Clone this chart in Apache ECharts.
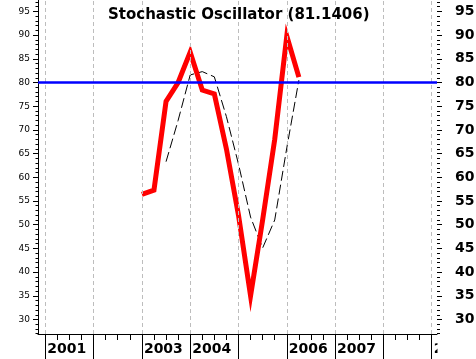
<!DOCTYPE html>
<html><head><meta charset="utf-8">
<script src="https://cdn.jsdelivr.net/npm/echarts@6/dist/echarts.min.js"></script>
<style>html,body{margin:0;padding:0;background:#fff}#c{width:476px;height:359px}</style>
</head><body><div id="c"></div>
<script>
// ---- data ----
const titleText = 'Stochastic Oscillator (81.1406)';
const periods = [2003.00, 2003.25, 2003.50, 2003.75, 2004.00, 2004.25, 2004.50, 2004.75, 2005.00, 2005.25, 2005.50, 2005.75, 2006.00, 2006.25];
const kValues = [56.4, 57.3, 76.0, 80.0, 86.4, 78.4, 77.6, 66.0, 52.0, 35.0, 51.0, 68.0, 89.8, 81.1406];
const dValues = [null, null, 63.3, 72.0, 81.6, 82.3, 81.2, 72.8, 62.8, 51.6, 45.1, 51.0, 66.2, 80.5];
const yearTicks = [2001, 2002, 2003, 2004, 2005, 2006, 2007, 2008, 2009];
const yearLabels = [2001, 2003, 2004, 2006, 2007, 2009];
const valueTicks = [30, 35, 40, 45, 50, 55, 60, 65, 70, 75, 80, 85, 90, 95];
const refLevel = 80;

// ---- layout ----
const XMIN = 2000.849, XMAX = 2009.110;
const YMIN = 26.94, YMAX = 97.41;
const quarterTicks = [];
for (let y = 2001; y < 2009; y++) for (let q = 1; q < 4; q++) quarterTicks.push(y + q / 4);
const minorY = [];
for (let v = 27; v <= 97; v++) if (v % 5 !== 0) minorY.push(v);

const chart = echarts.init(document.getElementById('c'), null, {renderer: 'canvas'});
const baseY = {type: 'value', min: YMIN, max: YMAX, splitLine: {show: false}};
const baseX = {type: 'value', min: XMIN, max: XMAX, splitLine: {show: false}, position: 'bottom'};
chart.setOption({
  animation: false,
  backgroundColor: '#fff',
  title: {
    text: titleText, left: 103, top: 3,
    textStyle: {fontFamily: 'DejaVu Sans', fontWeight: 'bold', fontSize: 15, color: '#000'}
  },
  grid: {left: 38, right: 39, top: 0, bottom: 25, containLabel: false, outerBoundsMode: 'none'},
  xAxis: [
    Object.assign({}, baseX, {
      axisLine: {show: true, onZero: false, lineStyle: {color: '#000', width: 1}},
      axisTick: {show: true, customValues: quarterTicks, length: 6, lineStyle: {color: '#000'}},
      axisLabel: {show: false}
    }),
    Object.assign({}, baseX, {
      axisLine: {show: false, onZero: false},
      axisTick: {show: true, customValues: yearTicks, length: 25, lineStyle: {color: '#000'}},
      axisLabel: {show: true, customValues: yearLabels, formatter: v => String(Math.round(v)),
        align: 'left', margin: 8, padding: [0, 0, 0, 2],
        fontFamily: 'DejaVu Sans', fontWeight: 'bold', fontSize: 14, color: '#000'}
    })
  ],
  yAxis: [
    Object.assign({}, baseY, {
      position: 'left',
      axisLine: {show: true, onZero: false, lineStyle: {color: '#000', width: 1}},
      axisTick: {show: true, customValues: minorY, length: 2.5, lineStyle: {color: '#000'}},
      axisLabel: {show: false}
    }),
    Object.assign({}, baseY, {
      position: 'left',
      axisLine: {show: false, onZero: false},
      axisTick: {show: true, customValues: valueTicks, length: 5, lineStyle: {color: '#000'}},
      axisLabel: {show: true, customValues: valueTicks, margin: 8,
        fontFamily: 'DejaVu Sans', fontSize: 9, color: '#000'}
    }),
    Object.assign({}, baseY, {
      position: 'right',
      axisLine: {show: false, onZero: false},
      axisTick: {show: true, customValues: minorY, length: 3, lineStyle: {color: '#000'}},
      axisLabel: {show: false}
    }),
    Object.assign({}, baseY, {
      position: 'right',
      axisLine: {show: false, onZero: false},
      axisTick: {show: true, customValues: valueTicks, length: 5, lineStyle: {color: '#000'}},
      axisLabel: {show: true, customValues: valueTicks, margin: 18,
        fontFamily: 'DejaVu Sans', fontWeight: 'bold', fontSize: 14, color: '#000'}
    })
  ],
  graphic: [{
    type: 'rect', z: 100, silent: true,
    shape: {x: 437.5, y: 336, width: 40, height: 23},
    style: {fill: '#fff'}
  }],
  series: [
    {
      type: 'line', data: [], z: 1, silent: true,
      markLine: {
        silent: true, symbol: ['none', 'none'], label: {show: false}, animation: false,
        lineStyle: {color: '#bdbdbd', type: [4, 3], width: 1},
        data: yearTicks.map(y => ({xAxis: y}))
      }
    },
    {
      type: 'line', data: [], z: 2, silent: true,
      markLine: {
        silent: true, symbol: ['none', 'none'], label: {show: false}, animation: false,
        lineStyle: {color: '#0000ff', type: 'solid', width: 2.5},
        data: [{yAxis: refLevel}]
      }
    },
    {
      type: 'line', z: 3, showSymbol: false, silent: true,
      data: periods.map((p, i) => [p, dValues[i]]).filter(d => d[1] !== null),
      lineStyle: {color: '#000', width: 1, type: [10, 4]}
    },
    {
      type: 'line', z: 4, showSymbol: false, silent: true,
      data: periods.map((p, i) => [p, kValues[i]]),
      lineStyle: {color: '#ff0000', width: 5, join: 'miter', miterLimit: 20, cap: 'butt'}
    }
  ]
});
</script>
</body></html>
